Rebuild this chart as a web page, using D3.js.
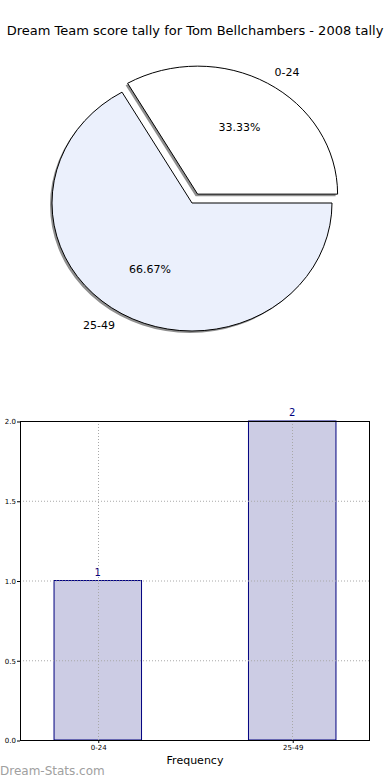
<!DOCTYPE html>
<html>
<head>
<meta charset="utf-8">
<script src="https://cdn.jsdelivr.net/npm/d3@7"></script>
<style>
  body { margin: 0; background: #fff; }
  svg { display: block; font-family: 'DejaVu Sans', sans-serif; }
</style>
</head>
<body>
<div id="chart"></div>
<script>
const categories = ['0-24', '25-49']
const counts = [1, 2]
const pieColors = ['#ffffff', '#ebf0fc']
const yTicks = [0, 0.5, 1, 1.5, 2]
const title = 'Dream Team score tally for Tom Bellchambers - 2008 tally'

const width = 390
const height = 780

const svg = d3.select('#chart')
  .append('svg')
  .attr('width', width)
  .attr('height', height)
  .attr('viewBox', [0, 0, width, height])

svg.append('text')
  .attr('x', 195)
  .attr('y', 35)
  .attr('text-anchor', 'middle')
  .style('font-size', '13px')
  .text(title)

// ---- pie ----
const cx = 192, cy = 203, rx = 140, ry = 128
const explode = [0.08, 0]
const total = d3.sum(counts)

// matplotlib starts at east going counter-clockwise
const pie = d3.pie().sort(null).startAngle(Math.PI / 2).endAngle(Math.PI / 2 - 2 * Math.PI)
const arcs = pie(counts)
const arc = d3.arc().innerRadius(0).outerRadius(1)

const pt = (a, r) => [Math.sin(a) * r * rx, -Math.cos(a) * r * ry]

const pieG = svg.append('g')

arcs.forEach((d, i) => {
  const mid = (d.startAngle + d.endAngle) / 2
  const [ox, oy] = pt(mid, explode[i])
  const g = pieG.append('g')
    .attr('transform', `translate(${cx + ox}, ${cy + oy})`)
  // shadow
  g.append('path')
    .attr('d', arc(d))
    .attr('transform', `translate(-2, 2) scale(${rx}, ${ry})`)
    .attr('fill', '#8f8f8f')
  g.append('path')
    .attr('d', arc(d))
    .attr('transform', `scale(${rx}, ${ry})`)
    .attr('fill', pieColors[i])
    .attr('stroke', '#000')
    .attr('stroke-width', 1)
    .attr('vector-effect', 'non-scaling-stroke')
})

arcs.forEach((d, i) => {
  const mid = (d.startAngle + d.endAngle) / 2
  const [ox, oy] = pt(mid, explode[i])
  const [lx, ly] = pt(mid, 1.1)
  const [px, py] = pt(mid, 0.6)
  pieG.append('text')
    .attr('x', cx + ox + lx)
    .attr('y', cy + oy + ly)
    .attr('dy', '0.35em')
    .attr('text-anchor', lx >= 0 ? 'start' : 'end')
    .style('font-size', '11px')
    .text(categories[i])
  pieG.append('text')
    .attr('x', cx + ox + px)
    .attr('y', cy + oy + py)
    .attr('dy', '0.35em')
    .attr('text-anchor', 'middle')
    .style('font-size', '11px')
    .text(d3.format('.2f')(counts[i] / total * 100) + '%')
})

// ---- bar chart ----
const plotLeft = 20, plotRight = 370, plotTop = 421, plotBottom = 740
const x = d3.scaleLinear().domain([-0.4, 1.4]).range([plotLeft, plotRight])
const y = d3.scaleLinear().domain([0, 2]).range([plotBottom, plotTop])
const barW = 0.45

const bars = svg.append('g')

bars.selectAll('rect')
  .data(counts)
  .join('rect')
  .attr('x', (d, i) => x(i - barW / 2))
  .attr('y', d => y(d))
  .attr('width', (d, i) => x(i + barW / 2) - x(i - barW / 2))
  .attr('height', d => y(0) - y(d))
  .attr('fill', '#ccccE4')
  .attr('stroke', '#00007f')
  .attr('stroke-width', 1)

// grid
const grid = svg.append('g')
  .attr('stroke', '#a8a8a8')
  .attr('stroke-dasharray', '1,2')
grid.selectAll('.gy')
  .data(yTicks)
  .join('line')
  .attr('x1', plotLeft).attr('x2', plotRight)
  .attr('y1', d => y(d) + 0.5).attr('y2', d => y(d) + 0.5)
grid.selectAll('.gx')
  .data(counts)
  .join('line')
  .attr('x1', (d, i) => Math.round(x(i)) + 0.5).attr('x2', (d, i) => Math.round(x(i)) + 0.5)
  .attr('y1', plotTop).attr('y2', plotBottom)

bars.selectAll('text')
  .data(counts)
  .join('text')
  .attr('x', (d, i) => x(i))
  .attr('y', d => y(d) - 5)
  .attr('text-anchor', 'middle')
  .attr('fill', '#00007f')
  .style('font-size', '10px')
  .text(d => d)

// frame
svg.append('rect')
  .attr('x', plotLeft + 0.5).attr('y', plotTop + 0.5)
  .attr('width', plotRight - plotLeft - 1).attr('height', plotBottom - plotTop)
  .attr('fill', 'none')
  .attr('stroke', '#000')

// y axis
svg.append('g')
  .attr('transform', `translate(${plotLeft}, 0.5)`)
  .call(d3.axisLeft(y).tickValues(yTicks).tickFormat(d3.format('.1f')).tickSize(3).tickPadding(1))
  .call(g => g.select('.domain').remove())
  .call(g => g.selectAll('text').style('font-size', '7px').style('font-family', 'DejaVu Sans'))

// x axis
svg.append('g')
  .attr('transform', `translate(0.5, ${plotBottom})`)
  .call(d3.axisBottom(x).tickValues([0, 1]).tickFormat((d, i) => categories[i]).tickSize(3).tickPadding(2))
  .call(g => g.select('.domain').remove())
  .call(g => g.selectAll('text').style('font-size', '7px').style('font-family', 'DejaVu Sans'))

svg.append('text')
  .attr('x', 195)
  .attr('y', 764)
  .attr('text-anchor', 'middle')
  .style('font-size', '11px')
  .text('Frequency')

svg.append('text')
  .attr('x', 0)
  .attr('y', 775)
  .attr('fill', '#a0a0a0')
  .style('font-size', '12px')
  .text('Dream-Stats.com')
</script>
</body>
</html>
